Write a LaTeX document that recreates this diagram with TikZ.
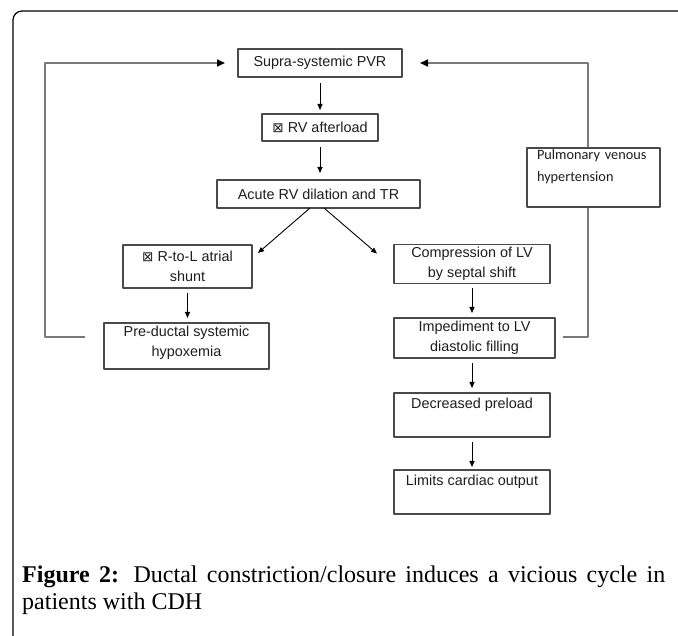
\documentclass[tikz,border=0pt]{standalone}
\usepackage{fontspec}
\setmainfont{Liberation Serif}
\newfontfamily\boxfont{Liberation Sans}
\newfontfamily\pvfont{Carlito}
\newfontfamily\glyphfont{DejaVu Sans}
\usetikzlibrary{arrows.meta, calc}
\definecolor{bx}{HTML}{4a4a4a}
\definecolor{lp}{HTML}{7a7a7a}
\definecolor{tx}{HTML}{1e1e1e}
\newcommand{\tofu}{{\glyphfont\fontsize{13.5}{13.5}\selectfont ⊠}}

\begin{document}
\begin{tikzpicture}[x=1pt, y=-1pt, line join=round,
    box/.style={draw=bx, line width=1.1pt, fill=white, text=tx, align=center,
        inner sep=3pt, outer sep=0pt,
        font=\boxfont\fontsize{14.4}{19.5}\selectfont},
    topbox/.style={box, text height=11pt, text depth=24pt},
    arr/.style={-{Triangle[length=6pt,width=5pt]}, line width=0.9pt,
        shorten <=5pt, shorten >=5pt},
    diag/.style={-{Triangle[length=6pt,width=5pt]}, line width=0.9pt},
    loopline/.style={draw=lp, line width=1.6pt,
        -{Triangle[length=8pt,width=7pt,black]}}]

    % page size of the reference
    \useasboundingbox (0,0) rectangle (678,636);

    % outer frame, only left and top edge show
    \draw[line width=1.2pt, rounded corners=9pt] (13,650) -- (13,11) -- (700,11);

    % main chain
    \node[box, minimum width=164, minimum height=28] (supra) at (320,63) {Supra-systemic PVR};
    \node[box, minimum width=116, minimum height=27] (afterload) at (320,127.5) {\tofu\ RV afterload};
    \node[box, minimum width=203, minimum height=28] (acute) at (318.5,194) {Acute RV dilation and TR};

    % left branch
    \node[box, minimum width=129, minimum height=43] (shunt) at (187.5,266.5) {\tofu\ R-to-L atrial\\shunt};
    \node[box, minimum width=165, minimum height=46, text depth=9pt] (hypox) at (186.5,346) {Pre-ductal systemic\\hypoxemia};

    % right branch
    \node[box, minimum width=156, minimum height=38] (compress) at (472,264) {Compression of LV\\by septal shift};
    \node[box, minimum width=161, minimum height=40] (imped) at (474.5,338) {Impediment to LV\\diastolic filling};
    \node[topbox, minimum width=156, minimum height=44] (preload) at (472,415) {Decreased preload};
    \node[topbox, minimum width=156, minimum height=44] (limits) at (472,492) {Limits cardiac output};

    % arrows down the chain
    \draw[arr, shorten <=6pt, shorten >=4pt] (supra.south) -- (afterload.north);
    \draw[arr, shorten <=6pt, shorten >=7pt] (afterload.south) -- (afterload.south |- acute.north);
    \draw[diag] ([xshift=-8.5pt]acute.south) -- ($(shunt.north east)+(6,8)$);
    \draw[diag] ([xshift=5.5pt]acute.south) -- ($(compress.north west)+(-17,9)$);
    \draw[arr] (shunt.south) -- (shunt.south |- hypox.north);
    \draw[arr] (compress.south) -- (compress.south |- imped.north);
    \draw[arr] (preload.north |- imped.south) -- (preload.north);
    \draw[arr, shorten >=3pt] (preload.south) -- (limits.north);

    % feedback loops back to the top
    \coordinate (lgo) at (85,337);
    \coordinate (rgo) at (563,337);
    \draw[loopline, shorten >=13pt] (lgo) -- ++(-40,0) |- (supra.west);
    \draw[loopline, shorten >=18pt] (rgo) -- ++(25,0) |- (supra.east);

    % box sitting on the right loop
    \node[box, anchor=north west, text width=113pt, align=left, inner xsep=10pt,
        text height=9pt, text depth=44pt, font=\pvfont\fontsize{14.3}{22}\selectfont]
        (pulm) at (527,148) {Pulmonary venous\\hypertension};

    % caption
    \node[anchor=north west, text width=643pt, align=justify, inner sep=0pt,
        font=\fontsize{24}{27}\selectfont] (cap) at (22,566)
        {\textbf{Figure 2:} Ductal constriction/closure induces a vicious cycle in\linebreak patients with CDH};

\end{tikzpicture}
\end{document}
